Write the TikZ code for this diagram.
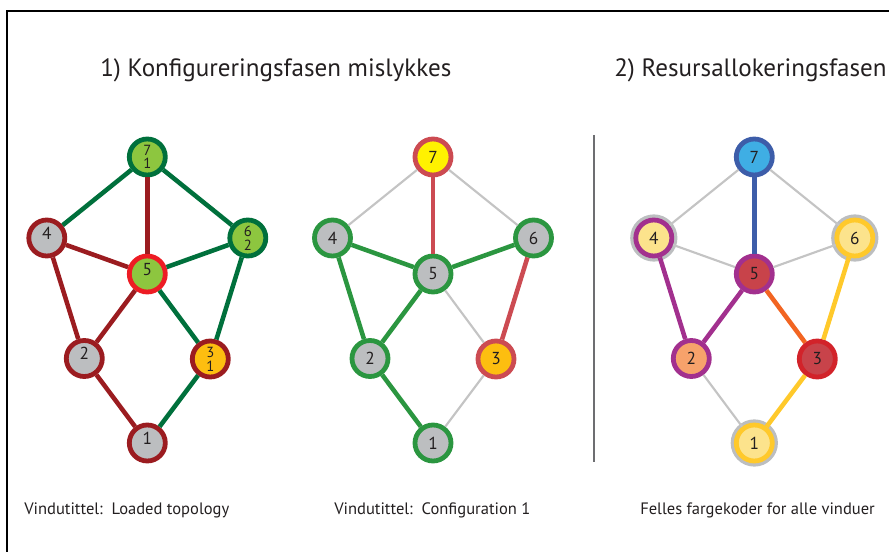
\documentclass[tikz,border=0pt]{standalone}
\usepackage{fontspec}
\setmainfont{PT Sans}
\definecolor{inkgray}{HTML}{231F20}
\definecolor{darkgreen}{HTML}{00703C}
\definecolor{leafgreen}{HTML}{8DC63F}
\definecolor{darkred}{HTML}{9B1C20}
\definecolor{brightred}{HTML}{ED1C24}
\definecolor{nodegray}{HTML}{BCBEC0}
\definecolor{amber}{HTML}{FDBE10}
\definecolor{cfgred}{HTML}{CC4B52}
\definecolor{cfggreen}{HTML}{2B9640}
\definecolor{lemon}{HTML}{FFF200}
\definecolor{edgegray}{HTML}{C4C4C4}
\definecolor{skyblue}{HTML}{3FAEE4}
\definecolor{royal}{HTML}{3D5DA9}
\definecolor{plum}{HTML}{A2308E}
\definecolor{rosered}{HTML}{C8434A}
\definecolor{peach}{HTML}{F7A26B}
\definecolor{pale}{HTML}{FCE38C}
\definecolor{gold}{HTML}{FFC92B}
\definecolor{tangerine}{HTML}{F26522}
\definecolor{strongred}{HTML}{D2232A}
\definecolor{divider}{HTML}{6D6E71}
% digit set a little above the centre of its disc
\newcommand{\liftnum}[1]{\raisebox{3.5pt}[0.7em][0pt]{#1}}
\begin{document}
\begin{tikzpicture}[x=0.75pt,y=-0.75pt,
  vertex/.style={circle,minimum size=27pt,inner sep=0pt,line width=3.6pt,
    text=inkgray,font=\fontsize{13}{13}\selectfont},
  pairvertex/.style={vertex,align=center,font=\fontsize{11}{10.3}\selectfont},
  ringed/.style={preaction={draw=nodegray,line width=8.4pt}},
  thick edge/.style={line width=3.4pt},
  thin edge/.style={line width=1.6pt,draw=edgegray},
  heading/.style={anchor=base west,font=\fontsize{18.8}{18.8}\selectfont,text=inkgray,inner sep=0pt},
  caption/.style={anchor=base west,font=\fontsize{12.4}{12.4}\selectfont,text=inkgray,inner sep=0pt}]
\useasboundingbox (0,0) rectangle (889,552);
% frame
\draw[line width=0.9pt] (7,552) -- (7,11) -- (889,11);
% headings
\node[heading] (t1) at (100,77) {1) Konfigureringsfasen mislykkes};
\node[heading] (t2) at (614,77) {2) Resursallokeringsfasen};
% captions
\node[caption] (c1) at (24,514) {Vindutittel:\ \ Loaded topology};
\node[caption] (c2) at (334,514) {Vindutittel:\ \ Configuration 1};
\node[caption] (c3) at (640,514) {Felles fargekoder for alle vinduer};
% divider
\coordinate (d1) at (594,135);
\coordinate (d2) at (594,462);
\draw[divider,line width=1.1pt] (d1) -- (d2);

% ---- panel 1: loaded topology
\begin{scope}[xshift=147.3*0.75pt]
\node[pairvertex,fill=leafgreen,draw=darkgreen] (a7) at (0,157) {7\\1};
\node[vertex,fill=nodegray,draw=darkred] (a4) at (-100.5,238) {\liftnum{4}};
\node[pairvertex,fill=leafgreen,draw=darkgreen] (a6) at (100.5,238) {6\\2};
\node[vertex,fill=leafgreen,draw=brightred] (a5) at (0,274) {\liftnum{5}};
\node[vertex,fill=nodegray,draw=darkred] (a2) at (-63,358.5) {\liftnum{2}};
\node[pairvertex,fill=amber,draw=darkred] (a3) at (63,359) {3\\1};
\node[vertex,fill=nodegray,draw=darkred] (a1) at (0,443) {\liftnum{1}};
\end{scope}
\draw[thick edge,darkgreen] (a7) -- (a4);
\draw[thick edge,darkred] (a7) -- (a5);
\draw[thick edge,darkgreen] (a7) -- (a6);
\draw[thick edge,darkred] (a4) -- (a5);
\draw[thick edge,darkgreen] (a5) -- (a6);
\draw[thick edge,darkred] (a4) -- (a2);
\draw[thick edge,darkred] (a5) -- (a2);
\draw[thick edge,darkgreen] (a5) -- (a3);
\draw[thick edge,darkgreen] (a6) -- (a3);
\draw[thick edge,darkred] (a2) -- (a1);
\draw[thick edge,darkgreen] (a3) -- (a1);

% ---- panel 2: configuration 1
\begin{scope}[xshift=433*0.75pt]
\node[vertex,fill=lemon,draw=cfgred] (b7) at (0,157) {7};
\node[vertex,fill=nodegray,draw=cfggreen] (b4) at (-100.5,238) {4};
\node[vertex,fill=nodegray,draw=cfggreen] (b6) at (100.5,238) {6};
\node[vertex,fill=nodegray,draw=cfggreen] (b5) at (0,274) {5};
\node[vertex,fill=nodegray,draw=cfggreen] (b2) at (-63,358.5) {2};
\node[vertex,fill=amber,draw=cfgred] (b3) at (63,359) {3};
\node[vertex,fill=nodegray,draw=cfggreen] (b1) at (0,443) {1};
\end{scope}
\draw[thin edge] (b7) -- (b4);
\draw[thick edge,cfgred] (b7) -- (b5);
\draw[thin edge] (b7) -- (b6);
\draw[thick edge,cfggreen] (b4) -- (b5);
\draw[thick edge,cfggreen] (b5) -- (b6);
\draw[thick edge,cfggreen] (b4) -- (b2);
\draw[thick edge,cfggreen] (b5) -- (b2);
\draw[thin edge] (b5) -- (b3);
\draw[thick edge,cfgred] (b6) -- (b3);
\draw[thick edge,cfggreen] (b2) -- (b1);
\draw[thin edge] (b3) -- (b1);

% ---- panel 3: shared colour codes
\begin{scope}[xshift=754.3*0.75pt]
\node[vertex,fill=skyblue,draw=royal] (c7) at (0,157) {7};
\node[vertex,ringed,fill=pale,draw=plum] (c4) at (-100.5,238) {4};
\node[vertex,ringed,fill=pale,draw=gold] (c6) at (100.5,238) {6};
\node[vertex,fill=rosered,draw=plum] (c5) at (0,274) {5};
\node[vertex,fill=peach,draw=plum] (c2) at (-63,358.5) {2};
\node[vertex,fill=rosered,draw=strongred] (c3) at (63,359) {3};
\node[vertex,ringed,fill=pale,draw=gold] (c1) at (0,443) {1};
\end{scope}
\draw[thin edge] (c7) -- (c4);
\draw[thick edge,royal] (c7) -- (c5);
\draw[thin edge] (c7) -- (c6);
\draw[thin edge] (c4) -- (c5);
\draw[thin edge] (c5) -- (c6);
\draw[thick edge,plum] (c4) -- (c2);
\draw[thick edge,plum] (c5) -- (c2);
\draw[thick edge,tangerine] (c5) -- (c3);
\draw[thick edge,gold] (c6) -- (c3);
\draw[thin edge] (c2) -- (c1);
\draw[thick edge,gold] (c3) -- (c1);
\end{tikzpicture}
\end{document}
